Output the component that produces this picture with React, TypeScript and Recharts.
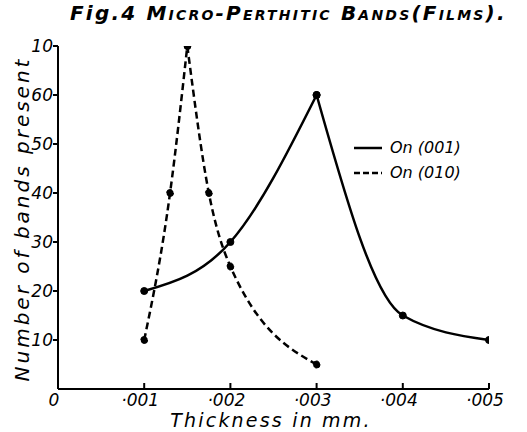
import { LineChart, Line, XAxis, YAxis } from "recharts";

// Thickness (mm) against number of bands
const thickness001 = [0.001, 0.002, 0.003, 0.004, 0.005];
const bands001 = [20, 30, 60, 15, 10];
const thickness010 = [0.001, 0.0013, 0.0015, 0.00175, 0.002, 0.003];
const bands010 = [10, 40, 70, 40, 25, 5];

const xTicks = [0, 0.001, 0.002, 0.003, 0.004, 0.005];
const xTickLabels = ["0", "·001", "·002", "·003", "·004", "·005"];
const yTicks = [10, 20, 30, 40, 50, 60, 70];
const yTickLabels = ["10", "20", "30", "40", "50", "60", "10"];

const FONT = "'DejaVu Sans', 'Liberation Sans', sans-serif";

// split a series at its peak so each branch is smoothed on its own (sharp cusp like the drawing)
function branches(xs: number[], ys: number[]) {
    const pts = xs.map((x, i) => ({ x, y: ys[i] }));
    const peak = ys.indexOf(Math.max(...ys));
    return [pts.slice(0, peak + 1), pts.slice(peak)];
}

const [rise001, fall001] = branches(thickness001, bands001);
const [rise010, fall010] = branches(thickness010, bands010);

const XTick = (props: any) => {
    const { x, y, payload } = props;
    const i = xTicks.indexOf(payload.value);
    return (
        <g>
            {i > 0 && <line x1={x} x2={x} y1={y - 6} y2={y} stroke="#000" strokeWidth={2} />}
            <text x={x - 4} y={y + 17} textAnchor="middle" fontFamily={FONT} fontStyle="italic" fontSize={17} fill="#000">
                {xTickLabels[i]}
            </text>
        </g>
    );
};

const YTick = (props: any) => {
    const { x, y, payload } = props;
    const i = yTicks.indexOf(payload.value);
    return (
        <g>
            <line x1={x - 5} x2={x} y1={y} y2={y} stroke="#000" strokeWidth={2} />
            <text x={x - 5} y={y + 6} textAnchor="end" fontFamily={FONT} fontStyle="italic" fontSize={17} fill="#000">
                {yTickLabels[i]}
            </text>
        </g>
    );
};

const legendItems = [
    { name: "On (001)", dash: undefined },
    { name: "On (010)", dash: "6 3" },
];

const LegendBox = () => (
    <div style={{ position: "absolute", left: 354, top: 135 }}>
        {legendItems.map((it) => (
            <div key={it.name} style={{ display: "flex", alignItems: "center", height: 25 }}>
                <svg width={30} height={10}>
                    <line x1={0} x2={28} y1={5} y2={5} stroke="#000" strokeWidth={2.5} strokeDasharray={it.dash} />
                </svg>
                <span style={{ fontFamily: FONT, fontStyle: "italic", fontSize: 16, marginLeft: 6, color: "#000" }}>
                    {it.name}
                </span>
            </div>
        ))}
    </div>
);

const dot = { r: 3.5, fill: "#000", stroke: "#000", strokeWidth: 1 };

export default function App() {
    return (
        <div style={{ position: "absolute", left: 0, top: 0, width: 527, height: 432, background: "#fff" }}>
            <LineChart width={527} height={432} margin={{ top: 46, right: 38, bottom: 0, left: 8 }}>
                <XAxis
                    type="number"
                    dataKey="x"
                    domain={[0, 0.005]}
                    ticks={xTicks}
                    height={43}
                    tickSize={0}
                    tickMargin={0}
                    tickLine={false}
                    axisLine={{ stroke: "#000", strokeWidth: 2 }}
                    tick={<XTick />}
                    allowDataOverflow
                />
                <YAxis
                    type="number"
                    dataKey="y"
                    domain={[0, 70]}
                    ticks={yTicks}
                    width={50}
                    tickSize={0}
                    tickMargin={0}
                    tickLine={false}
                    axisLine={{ stroke: "#000", strokeWidth: 2 }}
                    tick={<YTick />}
                    allowDataOverflow
                />
                <Line data={rise001} dataKey="y" type="natural" stroke="#000" strokeWidth={2.5} dot={dot} legendType="none" isAnimationActive={false} />
                <Line data={fall001} dataKey="y" type="monotone" stroke="#000" strokeWidth={2.5} dot={dot} legendType="none" isAnimationActive={false} />
                <Line data={rise010} dataKey="y" type="monotone" stroke="#000" strokeWidth={2.5} strokeDasharray="7 4" dot={dot} legendType="none" isAnimationActive={false} />
                <Line data={fall010} dataKey="y" type="monotone" stroke="#000" strokeWidth={2.5} strokeDasharray="7 4" dot={dot} legendType="none" isAnimationActive={false} />
            </LineChart>
            <LegendBox />
            <div style={{ position: "absolute", left: 70, top: 1, fontFamily: FONT, fontStyle: "italic", fontWeight: "bold", fontSize: 20, letterSpacing: 2.2, whiteSpace: "nowrap" }}>
                Fig.4 <span style={{ fontVariant: "small-caps" }}>Micro-Perthitic Bands(Films).</span>
            </div>
            <div style={{ position: "absolute", left: 22, top: 219, transform: "translate(-50%, -50%) rotate(-90deg)", fontFamily: FONT, fontStyle: "italic", fontSize: 20, letterSpacing: 3, whiteSpace: "nowrap" }}>
                Number of bands present
            </div>
            <div style={{ position: "absolute", left: 271, top: 420, transform: "translate(-50%, -50%)", fontFamily: FONT, fontStyle: "italic", fontSize: 19, lineHeight: 1, letterSpacing: 2.2, whiteSpace: "nowrap" }}>
                Thickness in mm.
            </div>
        </div>
    );
}
